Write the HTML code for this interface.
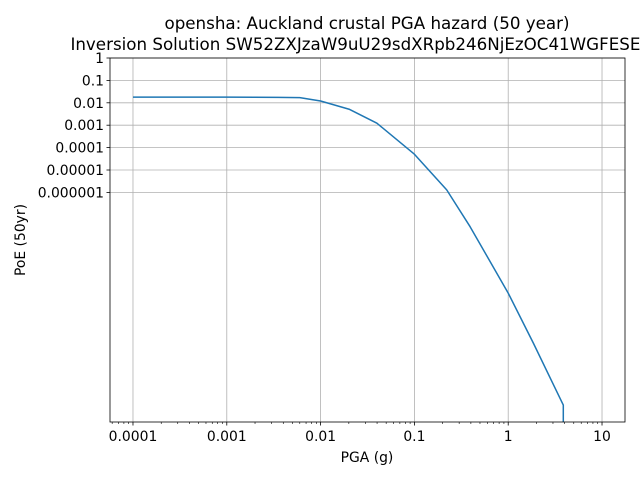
<!DOCTYPE html>
<html><head><meta charset="utf-8"><style>body{margin:0;background:#fff}svg{display:block;font-family:"DejaVu Sans","Liberation Sans",sans-serif}</style></head>
<body>
<svg id="chart" width="640" height="480">
<rect x="0" y="0" width="640" height="480" fill="#fff"/>
<g id="grid"></g>
<g id="ticks"></g>
<path id="curve" fill="none" stroke="#1f77b4" stroke-width="1.5" stroke-linejoin="round"/>
<rect x="110" y="58" width="515" height="364" fill="none" stroke="#000" stroke-width="0.8"/>
<text x="367" y="29" font-size="16.7" text-anchor="middle">opensha: Auckland crustal PGA hazard (50 year)</text>
<text x="367" y="50" font-size="16.7" text-anchor="middle">Inversion Solution SW52ZXJzaW9uU29sdXRpb246NjEzOC41WGFESEc=</text>
<text x="367" y="462" font-size="13.9" text-anchor="middle">PGA (g)</text>
<text x="25" y="240" font-size="13.9" text-anchor="middle" transform="rotate(-90 25 240)">PoE (50yr)</text>
</svg>
<script>
const xTicks=[0.0001,0.001,0.01,0.1,1,10];
const xTickLabels=["0.0001","0.001","0.01","0.1","1","10"];
const yTicks=[1,0.1,0.01,0.001,0.0001,0.00001,0.000001];
const yTickLabels=["1","0.1","0.01","0.001","0.0001","0.00001","0.000001"];
const pga=[0.0001,0.001,0.0035,0.006,0.01,0.0204,0.0398,0.1,0.221,0.392,1.0,1.85,3.87,3.87];
const poe=[0.018,0.018,0.0175,0.017,0.012,0.0051,0.00123,5.1e-5,1.29e-6,2.95e-8,3.2e-11,1.9e-13,3.2e-16,5.6e-17];
const L=110,R=625,T=58,B=422;
const xmin=-4.245,xmax=1.245,ymin=-16.25,ymax=0;
const sx=v=>L+(Math.log10(v)-xmin)/(xmax-xmin)*(R-L);
const sy=v=>T+(ymax-Math.log10(v))/(ymax-ymin)*(B-T);
const NS="http://www.w3.org/2000/svg";
const grid=document.getElementById('grid'),ticks=document.getElementById('ticks');
function mk(tag,a,p){const e=document.createElementNS(NS,tag);for(const k in a)e.setAttribute(k,a[k]);p.appendChild(e);return e;}
xTicks.forEach((v,i)=>{const x=sx(v);
const g=mk('line',{x1:x,x2:x,y1:T,y2:B,stroke:'#b0b0b0','stroke-width':0.8},grid);


const t=mk('line',{x1:x,x2:x,y1:B,y2:B+3.5,stroke:'#000','stroke-width':0.8},ticks);


const l=mk('text',{x:x,y:B+19,'font-size':13.9,'text-anchor':'middle'},ticks);l.textContent=xTickLabels[i];


});
for(let e=-5;e<=1;e++){for(let m=2;m<=9;m++){const v=m*Math.pow(10,e);const x=sx(v);if(x<L||x>R)continue;
const t=mk('line',{x1:x,x2:x,y1:B,y2:B+2,stroke:'#000','stroke-width':0.6},ticks);


}}
yTicks.forEach((v,i)=>{const y=sy(v);
const g=mk('line',{x1:L,x2:R,y1:y,y2:y,stroke:'#b0b0b0','stroke-width':0.8},grid);


const t=mk('line',{x1:L-3.5,x2:L,y1:y,y2:y,stroke:'#000','stroke-width':0.8},ticks);


const l=mk('text',{x:L-6,y:y+5,'font-size':13.9,'text-anchor':'end'},ticks);l.textContent=yTickLabels[i];


});
let d='';pga.forEach((v,i)=>{let y=Math.min(sy(poe[i]),B);d+=(i?'L':'M')+sx(v).toFixed(1)+','+y.toFixed(1);});
document.getElementById('curve').setAttribute('d',d);
</script>
</body></html>
